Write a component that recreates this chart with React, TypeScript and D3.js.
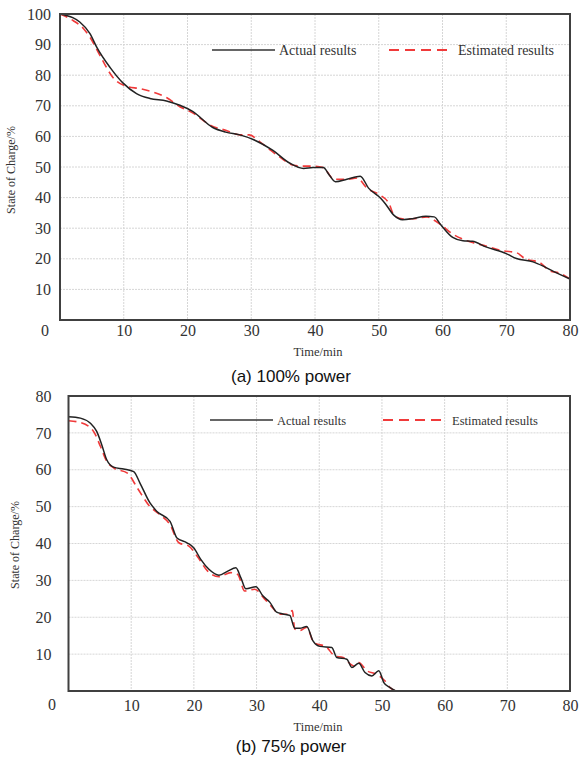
import React, { useEffect, useRef } from 'react';
import * as d3 from 'd3';

// (a) 100% power
const topActualT = [0, 1, 2, 3.1, 4.7, 5.8, 7.9, 9.9, 12, 14.1, 16.7, 18.8, 20.8, 23.9, 26, 28.2, 30.3, 33.4, 36, 38.2, 39.7, 41.3, 42.2, 43.2, 45, 47.1, 48.4, 50.3, 51, 52.4, 53.7, 55.3, 57.4, 58.7, 59.7, 61.6, 63.2, 64.7, 66.8, 70, 71.6, 74.2, 75.8, 77.4, 80];
const topActualV = [100, 99.5, 98.8, 97.4, 93.6, 89, 82.4, 77.4, 74, 72.4, 71.6, 70.2, 68.2, 63, 61.4, 60.5, 59, 55.4, 51.3, 49.5, 49.8, 49.8, 47.5, 45.2, 46, 47, 43.1, 39.8, 38.1, 34.2, 32.8, 33.1, 33.9, 33.7, 31.2, 27, 25.9, 25.7, 23.9, 21.7, 20.1, 19, 17.6, 15.9, 13.4];
const topEstT = [0, 2.1, 3.7, 4.7, 6.3, 8.4, 10.5, 12.6, 14.7, 16.7, 18.8, 20.8, 23.9, 26, 28.2, 29.7, 31.3, 32.9, 34.5, 36.6, 38.2, 39.7, 41.3, 43, 45, 46.6, 48.2, 50.3, 51.6, 52.4, 53.7, 55.3, 57.6, 58.7, 59.7, 61.6, 63.2, 64.7, 66.8, 69.5, 71.6, 72.9, 75.3, 76.8, 78.4, 80];
const topEstV = [100, 97.8, 95.2, 92.4, 86.3, 79, 76.3, 75.6, 74.4, 72.7, 69.7, 67.7, 63.3, 62, 60.5, 60.5, 58.3, 55.7, 53.2, 50.6, 50.3, 50.3, 49.8, 46, 46, 46.4, 43, 40.7, 38.1, 34.2, 33.1, 33.1, 33.7, 32.6, 31.2, 28.1, 26.4, 25.3, 24.2, 22.6, 22, 20.1, 18.7, 16.1, 15.3, 13.4];

// (b) 75% power
const botActualT = [0, 1.9, 3.5, 4.5, 5.3, 6.1, 7.2, 8.8, 10.4, 11.4, 13, 14.1, 16.2, 17.3, 18.9, 20, 21.1, 22.4, 24, 25.4, 26.7, 27.5, 28.3, 29.9, 31, 32.1, 33.2, 34.2, 35.3, 36.1, 36.9, 38, 39, 40.1, 42, 42.8, 44.4, 45.2, 46.3, 47.3, 48.4, 49.5, 50.3, 51.3, 52.2];
const botActualV = [74.4, 74, 72.6, 70.4, 66.8, 62.7, 60.7, 60.2, 59.5, 56.4, 51, 48.7, 46, 41.5, 40.2, 38.8, 35.7, 33, 31.4, 32.5, 33.4, 30.7, 27.7, 28.3, 25.8, 24.1, 21.4, 20.9, 20.5, 17, 17, 17.5, 13.6, 12.1, 11.8, 9.1, 8.6, 6.4, 7.5, 5, 4.1, 5.5, 2.3, 0.9, 0];
const botEstT = [0, 1.9, 4, 5.1, 6.1, 7.2, 9.4, 11, 13, 14.6, 16.2, 17.6, 19.2, 20.5, 22.2, 24, 25.9, 27, 28.1, 29.7, 31.3, 32.3, 33.7, 35.1, 35.7, 36.1, 36.9, 38, 39.1, 41.2, 42.5, 43.8, 45.5, 46.3, 47.6, 49.2, 50.5, 51.3, 52.2];
const botEstV = [73.3, 72.8, 70.4, 66.3, 62.3, 60.5, 59.1, 55, 50, 47.8, 45.1, 40.2, 39.3, 36.6, 32.5, 31, 32.1, 31.6, 27.1, 27.6, 24.9, 23.1, 20.8, 20.8, 21.8, 16.8, 16.4, 17.3, 13.2, 11.8, 9.5, 9.1, 6.8, 7.7, 5.5, 4.5, 2.7, 0.9, 0];

const xTicks = [10, 20, 30, 40, 50, 60, 70, 80];
const topYTicks = [10, 20, 30, 40, 50, 60, 70, 80, 90, 100];
const botYTicks = [10, 20, 30, 40, 50, 60, 70, 80];
const seriesNames = ['Actual results', 'Estimated results'];

const serif = 'Liberation Serif, Times New Roman, serif';
const sans = 'Liberation Sans, Arial, sans-serif';

function drawPanel(svg, cfg) {
  const g = svg.append('g');
  const x = d3.scaleLinear().domain([0, 80]).range([cfg.left, cfg.right]);
  const y = d3.scaleLinear().domain([0, cfg.yMax]).range([cfg.bottom, cfg.top]);

  // grid
  g.selectAll('.vgrid').data(xTicks.slice(0, -1)).join('line')
    .attr('x1', d => x(d)).attr('x2', d => x(d))
    .attr('y1', cfg.top).attr('y2', cfg.bottom)
    .attr('stroke', '#d6d6d6').attr('stroke-dasharray', '2,1');
  g.selectAll('.hgrid').data(cfg.yTicks.slice(0, -1)).join('line')
    .attr('x1', cfg.left).attr('x2', cfg.right)
    .attr('y1', d => y(d)).attr('y2', d => y(d))
    .attr('stroke', '#d6d6d6').attr('stroke-dasharray', '2,1');

  // tick labels
  const xa = g.append('g').attr('transform', `translate(0,${cfg.bottom})`)
    .call(d3.axisBottom(x).tickValues(xTicks).tickSize(0).tickPadding(cfg.xPad));
  const ya = g.append('g').attr('transform', `translate(${cfg.left},0)`)
    .call(d3.axisLeft(y).tickValues(cfg.yTicks).tickSize(0).tickPadding(cfg.yPad));
  [xa, ya].forEach(a => {
    a.select('.domain').remove();
    a.attr('font-family', serif).attr('font-size', 16);
    a.selectAll('text').attr('fill', '#333');
  });
  g.append('text').attr('x', cfg.zeroX).attr('y', cfg.zeroY)
    .attr('text-anchor', 'middle').attr('font-family', serif).attr('font-size', 16)
    .attr('fill', '#333').text('0');

  // lines
  const line = d3.line().x(d => x(d[0])).y(d => y(d[1])).curve(d3.curveMonotoneX);
  const est = cfg.estT.map((t, i) => [t, cfg.estV[i]]);
  const act = cfg.actT.map((t, i) => [t, cfg.actV[i]]);
  g.append('path').attr('d', line(est)).attr('fill', 'none')
    .attr('stroke', '#f03a3a').attr('stroke-width', 1.6).attr('stroke-dasharray', '8,5');
  g.append('path').attr('d', line(act)).attr('fill', 'none')
    .attr('stroke', '#222').attr('stroke-width', 1.5);

  // frame
  g.append('rect').attr('x', cfg.left).attr('y', cfg.top)
    .attr('width', cfg.right - cfg.left).attr('height', cfg.bottom - cfg.top)
    .attr('fill', 'none').attr('stroke', '#404040').attr('stroke-width', 2);

  // legend
  const lg = g.append('g').attr('font-family', serif).attr('font-size', cfg.legSize).attr('fill', '#333');
  lg.append('line').attr('x1', cfg.leg[0]).attr('x2', cfg.leg[0] + 63)
    .attr('y1', cfg.legY).attr('y2', cfg.legY).attr('stroke', '#333').attr('stroke-width', 1.6);
  lg.append('text').attr('x', cfg.leg[0] + 67).attr('y', cfg.legY + 5).text(seriesNames[0]);
  lg.append('line').attr('x1', cfg.leg[1]).attr('x2', cfg.leg[1] + 63)
    .attr('y1', cfg.legY).attr('y2', cfg.legY).attr('stroke', '#f03a3a').attr('stroke-width', 1.8)
    .attr('stroke-dasharray', '10,6');
  lg.append('text').attr('x', cfg.leg[1] + 69).attr('y', cfg.legY + 5).text(seriesNames[1]);

  // axis titles
  g.append('text').attr('x', 318).attr('y', cfg.xTitleY).attr('text-anchor', 'middle')
    .attr('font-family', serif).attr('font-size', 12.5).attr('fill', '#333').text('Time/min');
  g.append('text').attr('transform', `translate(${cfg.yTitleX},${cfg.yTitleY}) rotate(-90)`)
    .attr('text-anchor', 'middle').attr('font-family', serif).attr('font-size', 12)
    .attr('fill', '#333').text('State of Charge/%');
  g.append('text').attr('x', 291).attr('y', cfg.capY).attr('text-anchor', 'middle')
    .attr('font-family', sans).attr('font-size', 17).attr('fill', '#111').text(cfg.caption);
}

export default function App() {
  const ref = useRef(null);
  useEffect(() => {
    const svg = d3.select(ref.current);
    svg.selectAll('*').remove();
    drawPanel(svg, {
      left: 60, right: 570, top: 14, bottom: 320, yMax: 100, yTicks: topYTicks,
      xPad: 5, yPad: 9, zeroX: 45, zeroY: 336,
      actT: topActualT, actV: topActualV, estT: topEstT, estV: topEstV,
      leg: [212, 389], legY: 50, legSize: 14,
      xTitleY: 356, yTitleX: 15, yTitleY: 170, capY: 382, caption: '(a) 100% power',
    });
    drawPanel(svg, {
      left: 68.5, right: 570, top: 396, bottom: 691, yMax: 80, yTicks: botYTicks,
      xPad: 9, yPad: 17, zeroX: 52, zeroY: 710,
      actT: botActualT, actV: botActualV, estT: botEstT, estV: botEstV,
      leg: [210, 383], legY: 420, legSize: 12.5,
      xTitleY: 731, yTitleX: 19, yTitleY: 545, capY: 752, caption: '(b) 75% power',
    });
  }, []);
  return (
    <svg ref={ref} width={579} height={760}
      style={{ position: 'absolute', left: 0, top: 0, background: '#fff' }} />
  );
}
